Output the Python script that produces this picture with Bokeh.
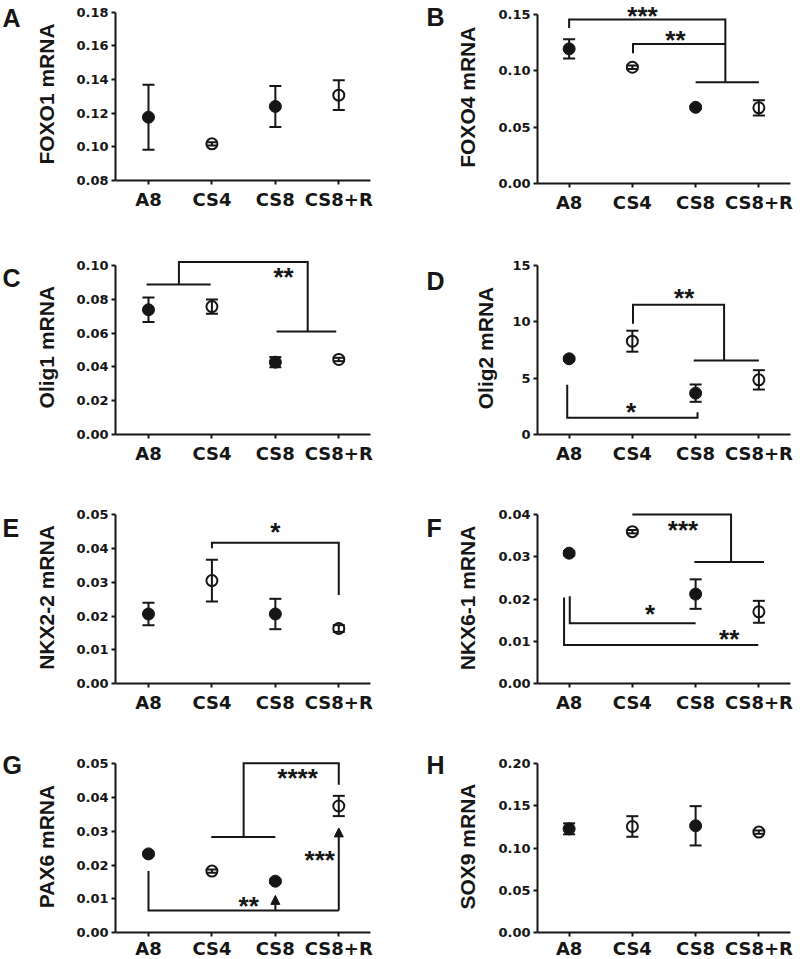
import math
from bokeh.plotting import figure
from bokeh.models import Range1d, FixedTicker, NumeralTickFormatter, Arrow, NormalHead
from bokeh.layouts import row, column
from bokeh.core.properties import value
from bokeh.embed import file_html
from bokeh.resources import INLINE

# ---------------- data ----------------
categories = ["A8", "CS4", "CS8", "CS8+R"]
x_index = [0, 1, 2, 3]
filled_flags = [True, False, True, False]

foxo1_mean = [0.1176, 0.1018, 0.1240, 0.1307]
foxo1_err = [0.0193, 0.0010, 0.0122, 0.0088]
foxo4_mean = [0.1195, 0.1032, 0.0676, 0.0672]
foxo4_err = [0.0085, 0.0015, 0.0015, 0.0068]
olig1_mean = [0.0738, 0.0757, 0.0428, 0.0444]
olig1_err = [0.0072, 0.0042, 0.0030, 0.0010]
olig2_mean = [6.72, 8.28, 3.67, 4.85]
olig2_err = [0.15, 0.93, 0.77, 0.86]
nkx22_mean = [0.0206, 0.0305, 0.0206, 0.0163]
nkx22_err = [0.0033, 0.0062, 0.0045, 0.0010]
nkx61_mean = [0.0309, 0.0360, 0.0212, 0.0170]
nkx61_err = [0.0005, 0.0004, 0.0035, 0.0026]
pax6_mean = [0.0233, 0.0182, 0.0152, 0.0375]
pax6_err = [0.0005, 0.0005, 0.0005, 0.0030]
sox9_mean = [0.1229, 0.1257, 0.1265, 0.1190]
sox9_err = [0.0065, 0.0122, 0.0233, 0.0020]

ticks_foxo1 = [0.08, 0.10, 0.12, 0.14, 0.16, 0.18]
ticks_foxo4 = [0.00, 0.05, 0.10, 0.15]
ticks_olig1 = [0.00, 0.02, 0.04, 0.06, 0.08, 0.10]
ticks_olig2 = [0, 5, 10, 15]
ticks_nkx22 = [0.00, 0.01, 0.02, 0.03, 0.04, 0.05]
ticks_nkx61 = [0.00, 0.01, 0.02, 0.03, 0.04]
ticks_pax6 = [0.00, 0.01, 0.02, 0.03, 0.04, 0.05]
ticks_sox9 = [0.00, 0.05, 0.10, 0.15, 0.20]

# significance brackets (x = group index, y = value)
brk_foxo4_x = [[0, 0, 2.47, 2.47], [2, 3], [1.01, 1.01, 2.47]]
brk_foxo4_y = [[0.1380, 0.1456, 0.1456, 0.0898], [0.0898, 0.0898], [0.1156, 0.1239, 0.1239]]
star_foxo4 = (["***", "**"], [1.16, 1.68], [0.1513, 0.1299])

brk_olig1_x = [[-0.03, 0.98], [0.48, 0.48, 2.51, 2.51], [2.02, 2.96]]
brk_olig1_y = [[0.0888, 0.0888], [0.0888, 0.1020, 0.1020, 0.0609], [0.0609, 0.0609]]
star_olig1 = (["**"], [2.13], [0.0945])

brk_olig2_x = [[1.01, 1.01, 2.45, 2.45], [1.97, 3.0], [-0.03, -0.03, 2.03, 2.03]]
brk_olig2_y = [[9.82, 11.51, 11.51, 6.57], [6.57, 6.57], [4.41, 1.48, 1.48, 1.98]]
star_olig2 = (["**", "*"], [1.82, 0.98], [12.31, 2.22])

brk_nkx22_x = [[1, 1, 3, 3]]
brk_nkx22_y = [[0.0401, 0.0417, 0.0417, 0.0262]]
star_nkx22 = (["*"], [2.0], [0.0456])

brk_nkx61_x = [[1, 2.56, 2.56], [1.98, 3.08], [0.01, 0.01, 2.0], [-0.08, -0.08, 2.99]]
brk_nkx61_y = [[0.0401, 0.0401, 0.0288], [0.0288, 0.0288], [0.0207, 0.0143, 0.0143], [0.0204, 0.0091, 0.0091]]
star_nkx61 = (["***", "*", "**"], [1.8, 1.28, 2.53], [0.0370, 0.0171, 0.0112])

brk_pax6_x = [[3, 3, 1.5, 1.5], [0.99, 2.0], [0, 0, 3]]
brk_pax6_y = [[0.0438, 0.0502, 0.0502, 0.0283], [0.0283, 0.0283], [0.0182, 0.0065, 0.0065]]
arrow_pax6 = ([2, 3], [0.0065, 0.0065], [0.0110, 0.0310])
star_pax6 = (["****", "**", "***"], [2.35, 1.58, 2.7], [0.0466, 0.0087, 0.0222])

# ---------------- layout / style ----------------
INK = "#161616"
FONT = "Liberation Sans"
TICK_FONT = "DejaVu Sans"
STAR_FS = 26

COLS = {
    "L": dict(width=400, canvas_x=0, axis_x=115, axis_right=370, xa=-0.52, xe=3.5, letter_x=2, ylab_x=45.5),
    "R": dict(width=400, canvas_x=400, axis_x=537, axis_right=790, xa=-0.5, xe=3.5, letter_x=426, ylab_x=466.7),
}
ROWS = [(0, 240), (240, 480), (480, 720), (720, 959)]

panels = [
    dict(col="L", row=0, letter="A", ylabel="FOXO1 mRNA", mean=foxo1_mean, err=foxo1_err, ticks=ticks_foxo1,
         fmt="0.00", at=11.7, ab=180, letter_y=17.5, ylab_y=93.5),
    dict(col="R", row=0, letter="B", ylabel="FOXO4 mRNA", mean=foxo4_mean, err=foxo4_err, ticks=ticks_foxo4,
         fmt="0.00", at=14, ab=183, letter_y=16, ylab_y=96.7, bx=brk_foxo4_x, by=brk_foxo4_y, stars=star_foxo4),
    dict(col="L", row=1, letter="C", ylabel="Olig1 mRNA", mean=olig1_mean, err=olig1_err, ticks=ticks_olig1,
         fmt="0.00", at=265, ab=434, letter_y=277.5, ylab_y=346.7, bx=brk_olig1_x, by=brk_olig1_y, stars=star_olig1),
    dict(col="R", row=1, letter="D", ylabel="Olig2 mRNA", mean=olig2_mean, err=olig2_err, ticks=ticks_olig2,
         fmt="0", at=265, ab=434, letter_y=280, ylab_y=347.5, bx=brk_olig2_x, by=brk_olig2_y, stars=star_olig2,
         ylab_x=485),
    dict(col="L", row=2, letter="E", ylabel="NKX2-2 mRNA", mean=nkx22_mean, err=nkx22_err, ticks=ticks_nkx22,
         fmt="0.00", at=514.3, ab=683, letter_y=527, ylab_y=597, bx=brk_nkx22_x, by=brk_nkx22_y, stars=star_nkx22),
    dict(col="R", row=2, letter="F", ylabel="NKX6-1 mRNA", mean=nkx61_mean, err=nkx61_err, ticks=ticks_nkx61,
         fmt="0.00", at=514.3, ab=683, letter_y=527, ylab_y=597.5, bx=brk_nkx61_x, by=brk_nkx61_y, stars=star_nkx61),
    dict(col="L", row=3, letter="G", ylabel="PAX6 mRNA", mean=pax6_mean, err=pax6_err, ticks=ticks_pax6,
         fmt="0.00", at=763.3, ab=932, letter_y=764, ylab_y=846, bx=brk_pax6_x, by=brk_pax6_y, stars=star_pax6,
         arrows=arrow_pax6),
    dict(col="R", row=3, letter="H", ylabel="SOX9 mRNA", mean=sox9_mean, err=sox9_err, ticks=ticks_sox9,
         fmt="0.00", at=763.3, ab=932, letter_y=764, ylab_y=846),
]


def make_panel(spec):
    c = COLS[spec["col"]]
    ct, cb = ROWS[spec["row"]]
    vb, vt = spec["ticks"][0], spec["ticks"][-1]
    at, ab = spec["at"], spec["ab"]
    k = (ab - at) / (vt - vb)  # px per unit (y)

    def yv(py):
        return vb + (ab - py) / k

    kx = (c["axis_right"] - c["axis_x"]) / (c["xe"] - c["xa"])

    def xv(px):
        return c["xa"] + (px - c["axis_x"]) / kx

    height = cb - ct
    # the frame fills the whole canvas; the axes sit at fixed data locations inside it
    p = figure(width=c["width"], height=height,
               x_range=Range1d(xv(c["canvas_x"]), xv(c["canvas_x"] + c["width"])),
               y_range=Range1d(yv(cb), yv(ct)),
               output_backend="svg", toolbar_location=None, tools="",
               min_border_left=0, min_border_right=0, min_border_top=0, min_border_bottom=0)
    p.outline_line_color = None
    p.background_fill_color = "white"
    p.border_fill_color = "white"
    p.xgrid.visible = False
    p.ygrid.visible = False

    for ax in (p.xaxis, p.yaxis):
        ax.axis_line_width = 2
        ax.axis_line_color = INK
        ax.major_tick_line_width = 2
        ax.major_tick_line_color = INK
        ax.major_tick_in = 0
        ax.major_tick_out = 4
        ax.minor_tick_line_color = None
        ax.major_label_text_font = TICK_FONT
        ax.major_label_text_font_style = "bold"
        ax.major_label_text_color = INK

    p.yaxis.fixed_location = c["xa"]
    p.yaxis.ticker = FixedTicker(ticks=spec["ticks"])
    p.yaxis.formatter = NumeralTickFormatter(format=spec["fmt"])
    p.yaxis.bounds = (vb, vt)
    p.yaxis.major_label_text_font_size = "13px"
    p.yaxis.major_label_standoff = 3

    p.xaxis.fixed_location = vb
    p.xaxis.ticker = FixedTicker(ticks=x_index)
    p.xaxis.bounds = (c["xa"], c["xe"])
    p.xaxis.major_label_overrides = {i: categories[i] for i in x_index}
    p.xaxis.major_label_text_font_size = "18px"
    p.xaxis.major_label_standoff = 4 if spec["row"] < 3 else 1

    # brackets
    if "bx" in spec:
        p.multi_line(xs=spec["bx"], ys=spec["by"], line_width=2, line_color=INK, line_join="miter")
    if "arrows" in spec:
        axs, ay0, ay1 = spec["arrows"]
        for xa, y0, y1 in zip(axs, ay0, ay1):
            p.add_layout(Arrow(x_start=xa, y_start=y0, x_end=xa, y_end=y1, line_width=2, line_color=INK,
                               end=NormalHead(size=9, fill_color=INK, line_color=INK, line_width=1)))

    # markers
    mean, err = spec["mean"], spec["err"]
    fx = [x for x, f in zip(x_index, filled_flags) if f]
    fy = [m for m, f in zip(mean, filled_flags) if f]
    ox = [x for x, f in zip(x_index, filled_flags) if not f]
    oy = [m for m, f in zip(mean, filled_flags) if not f]
    p.scatter(fx, fy, marker="circle", size=12, fill_color=INK, line_color=INK, line_width=1)
    p.scatter(ox, oy, marker="circle", size=11, fill_color="white", line_color=INK, line_width=2)

    lo = [m - e for m, e in zip(mean, err)]
    hi = [m + e for m, e in zip(mean, err)]
    p.segment(x0=x_index, y0=lo, x1=x_index, y1=hi, line_width=2, line_color=INK)
    p.scatter(x_index, hi, marker="dash", size=12, line_width=2, line_color=INK)
    p.scatter(x_index, lo, marker="dash", size=12, line_width=2, line_color=INK)

    # stars
    if "stars" in spec:
        txt, sx, sy = spec["stars"]
        anchor = [y - 0.10 * STAR_FS / k for y in sy]
        p.text(x=sx, y=anchor, text=txt, text_font=value(FONT), text_font_style="bold",
               text_font_size=f"{STAR_FS}px", text_align="center", text_baseline="middle",
               text_color=INK)

    # y-axis title
    ylab_x = spec.get("ylab_x", c["ylab_x"])
    p.text(x=[xv(ylab_x)], y=[yv(spec["ylab_y"])], text=[spec["ylabel"]], angle=math.pi / 2,
           text_font=value(FONT), text_font_style="bold", text_font_size="21px",
           text_align="center", text_baseline="middle", text_color=INK)
    # panel letter
    p.text(x=[xv(c["letter_x"])], y=[yv(spec["letter_y"])], text=[spec["letter"]],
           text_font=value(FONT), text_font_style="bold", text_font_size="25px",
           text_align="left", text_baseline="middle", text_color=INK)
    return p


figs = [make_panel(s) for s in panels]
layout = column(
    row(figs[0], figs[1], spacing=0),
    row(figs[2], figs[3], spacing=0),
    row(figs[4], figs[5], spacing=0),
    row(figs[6], figs[7], spacing=0),
    spacing=0,
)

open("out.html", "w").write(file_html(layout, INLINE))
